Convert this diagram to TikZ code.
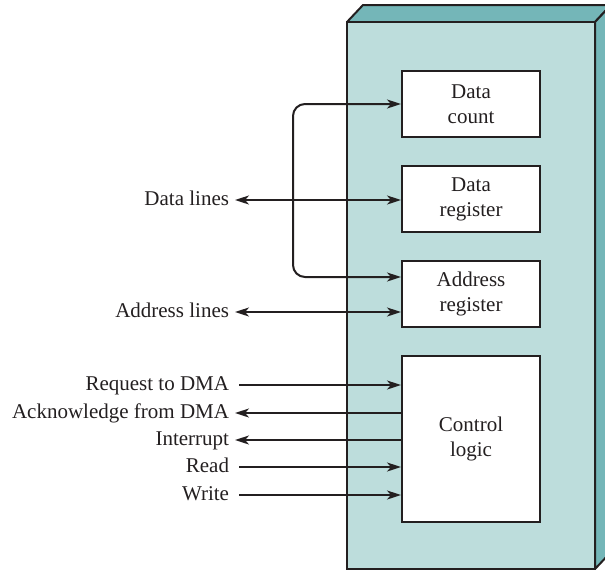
\documentclass[tikz,border=0pt]{standalone}
\usepackage{fontspec}
\setmainfont{Liberation Serif}
\usetikzlibrary{positioning, arrows.meta}
\definecolor{facecol}{HTML}{BDDDDC}
\definecolor{sidecol}{HTML}{74B6B8}
\definecolor{inkcol}{HTML}{231F20}

\begin{document}
\begin{tikzpicture}[x=1pt, y=-1pt, font=\fontsize{21}{25}\selectfont, color=inkcol,
  >={Stealth[length=14pt, width=9pt, inset=4pt]}, line width=2pt, node distance=27pt,
  regbox/.style={draw, fill=white, minimum width=138pt, minimum height=66pt, align=center, inner sep=0pt},
  sig/.style={inner sep=0pt, outer sep=6pt, anchor=east, text height=10pt, text depth=0pt}]
  \useasboundingbox (0,0) rectangle (605,571);
  % the DMA module as a slab
  \filldraw[fill=sidecol, line join=round] (347,22) -- (363,5) -- (611,5) -- (595,22) -- cycle;
  \filldraw[fill=sidecol, line join=round] (595,22) -- (611,5) -- (611,552) -- (595,569) -- cycle;
  \filldraw[fill=facecol] (347,22) rectangle (595,569);
  % registers
  \node[regbox] (dc) at (471,104) {Data\\count};
  \node[regbox, below=of dc] (dr) {Data\\register};
  \node[regbox, below=of dr] (ar) {Address\\register};
  \node[regbox, below=of ar, minimum height=166pt] (cl) {Control\\logic};
  % signal names
  \node[sig] (dl) at (235,200) {Data lines};
  \node[sig] (al) at (235,312) {Address lines};
  \node[sig] (req) at (235,385) {Request to DMA};
  \node[sig] (ack) at (235,413) {Acknowledge from DMA};
  \node[sig] (irq) at (235,440) {Interrupt};
  \node[sig] (rd) at (235,467) {Read};
  \node[sig] (wr) at (235,495) {Write};
  \coordinate (loop) at (293,200);
  \draw[<->, rounded corners=12pt] (dc.west) -| (loop) |- ([yshift=17pt]ar.west);
  \draw[<->] (dl.east) -- (dl.east -| dr.west);
  \draw[<->] (al.east) -- (al.east -| ar.west);
  \draw[->, shorten <=4pt] (req.east) -- (req.east -| cl.west);
  \draw[<-] (ack.east) -- (ack.east -| cl.west);
  \draw[<-] (irq.east) -- (irq.east -| cl.west);
  \draw[->, shorten <=4pt] (rd.east) -- (rd.east -| cl.west);
  \draw[->, shorten <=4pt] (wr.east) -- (wr.east -| cl.west);
\end{tikzpicture}
\end{document}
